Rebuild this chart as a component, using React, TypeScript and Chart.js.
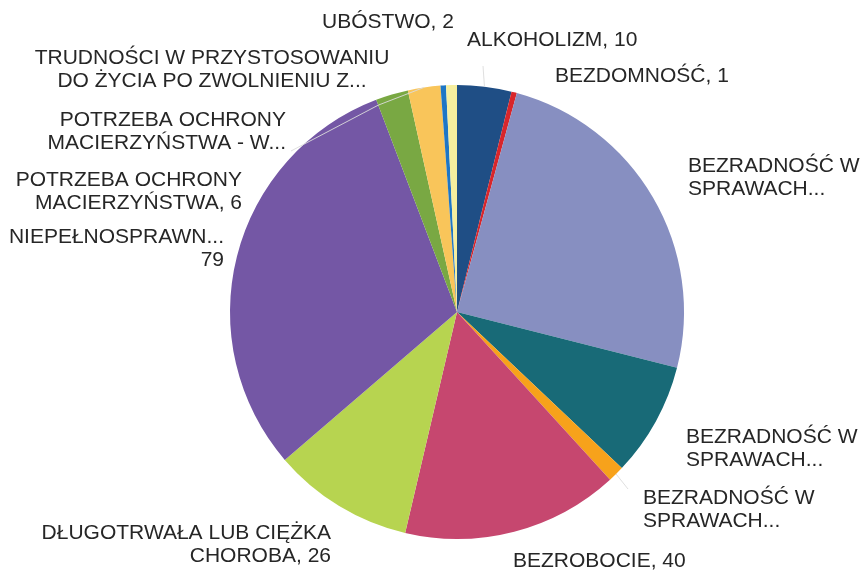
import React, { useEffect, useRef } from 'react';
import { Chart, registerables } from 'chart.js';

Chart.register(...registerables);

// ---- data ----
const categories = [
  'ALKOHOLIZM',
  'BEZDOMNOŚĆ',
  'BEZRADNOŚĆ W SPRAWACH... (1)',
  'BEZRADNOŚĆ W SPRAWACH... (2)',
  'BEZRADNOŚĆ W SPRAWACH... (3)',
  'BEZROBOCIE',
  'DŁUGOTRWAŁA LUB CIĘŻKA CHOROBA',
  'NIEPEŁNOSPRAWNOŚĆ',
  'POTRZEBA OCHRONY MACIERZYŃSTWA',
  'POTRZEBA OCHRONY MACIERZYŃSTWA - W...',
  'TRUDNOŚCI W PRZYSTOSOWANIU DO ŻYCIA PO ZWOLNIENIU Z...',
  'UBÓSTWO',
];
const values = [10, 1, 64, 21, 3, 40, 26, 79, 6, 6, 1, 2];
// label templates as displayed ({v} = value)
const labelTemplates = [
  'ALKOHOLIZM, {v}',
  'BEZDOMNOŚĆ, {v}',
  'BEZRADNOŚĆ W\nSPRAWACH...',
  'BEZRADNOŚĆ W\nSPRAWACH...',
  'BEZRADNOŚĆ W\nSPRAWACH...',
  'BEZROBOCIE, {v}',
  'DŁUGOTRWAŁA LUB CIĘŻKA\nCHOROBA, {v}',
  'NIEPEŁNOSPRAWN...\n{v}',
  'POTRZEBA OCHRONY\nMACIERZYŃSTWA, {v}',
  'POTRZEBA OCHRONY\nMACIERZYŃSTWA - W...',
  'TRUDNOŚCI W PRZYSTOSOWANIU\nDO ŻYCIA PO ZWOLNIENIU Z...',
  'UBÓSTWO, {v}',
];
const colors = [
  '#1f4e85', '#d8262b', '#878fc1', '#186a77', '#f7a21b', '#c6476f',
  '#b7d450', '#7457a5', '#79a843', '#f9c55a', '#1e76c5', '#f6ee9e',
];

// ---- layout (label anchors, not marks) ----
type LabelPos = { x: number; y: number; align: CanvasTextAlign };
const labelLayout: LabelPos[] = [
  { x: 467, y: 40, align: 'left' },
  { x: 555, y: 76, align: 'left' },
  { x: 688, y: 166, align: 'left' },
  { x: 686, y: 437, align: 'left' },
  { x: 643, y: 498, align: 'left' },
  { x: 513, y: 561, align: 'left' },
  { x: 331, y: 533, align: 'right' },
  { x: 224, y: 237, align: 'right' },
  { x: 242, y: 180, align: 'right' },
  { x: 286, y: 120, align: 'right' },
  { x: 212, y: 58, align: 'center' },
  { x: 388, y: 22, align: 'center' },
];
// leader lines: slice index -> label-side end point; optional bend at the end angle of another slice
const leaders: { index: number; x: number; y: number; viaEndOf?: number }[] = [
  { index: 9, x: 291, y: 151, viaEndOf: 7 },
  { index: 4, x: 628, y: 489 },
  { index: 0, x: 483, y: 66 },
];

const FONT = '21px "Liberation Sans", Arial, sans-serif';
const LINE_H = 23.5;

const labelPlugin = {
  id: 'sliceLabels',
  afterDatasetsDraw(chart: any) {
    const ctx: CanvasRenderingContext2D = chart.ctx;
    const meta = chart.getDatasetMeta(0);
    ctx.save();
    // leader lines
    ctx.strokeStyle = 'rgba(220,220,220,0.9)';
    ctx.lineWidth = 1;
    leaders.forEach((l) => {
      const arc = meta.data[l.index] as any;
      const p = arc.getProps(['x', 'y', 'startAngle', 'endAngle', 'outerRadius'], true);
      const mid = (p.startAngle + p.endAngle) / 2;
      const sx = p.x + Math.cos(mid) * p.outerRadius;
      const sy = p.y + Math.sin(mid) * p.outerRadius;
      ctx.beginPath();
      ctx.moveTo(sx, sy);
      if (l.viaEndOf !== undefined) {
        const va = (meta.data[l.viaEndOf] as any).getProps(['endAngle'], true).endAngle;
        const r = p.outerRadius * 0.975;
        ctx.lineTo(p.x + Math.cos(va) * r, p.y + Math.sin(va) * r);
      }
      ctx.lineTo(l.x, l.y);
      ctx.stroke();
    });
    // labels
    ctx.font = FONT;
    ctx.fillStyle = '#262626';
    ctx.textBaseline = 'middle';
    labelTemplates.forEach((t, i) => {
      const pos = labelLayout[i];
      const lines = t.replace('{v}', String(values[i])).split('\n');
      ctx.textAlign = pos.align;
      lines.forEach((line, k) => {
        ctx.fillText(line, pos.x, pos.y + k * LINE_H);
      });
    });
    ctx.restore();
  },
};

export default function App() {
  const ref = useRef<HTMLCanvasElement | null>(null);
  useEffect(() => {
    document.body.style.margin = '0';
    const canvas = ref.current;
    if (!canvas) return;
    const chart = new Chart(canvas, {
      type: 'pie',
      data: {
        labels: categories,
        datasets: [
          {
            data: values,
            backgroundColor: colors,
            borderWidth: 0,
          },
        ],
      },
      options: {
        responsive: false,
        animation: false,
        devicePixelRatio: 1,
        layout: { padding: { left: 230, top: 85, right: 176, bottom: 32 } },
        plugins: {
          legend: { display: false },
          tooltip: { enabled: false },
        },
      },
      plugins: [labelPlugin],
    });
    return () => chart.destroy();
  }, []);
  return (
    <div style={{ width: 860, height: 571, background: '#fff' }}>
      <canvas ref={ref} width={860} height={571} style={{ display: 'block' }} />
    </div>
  );
}
